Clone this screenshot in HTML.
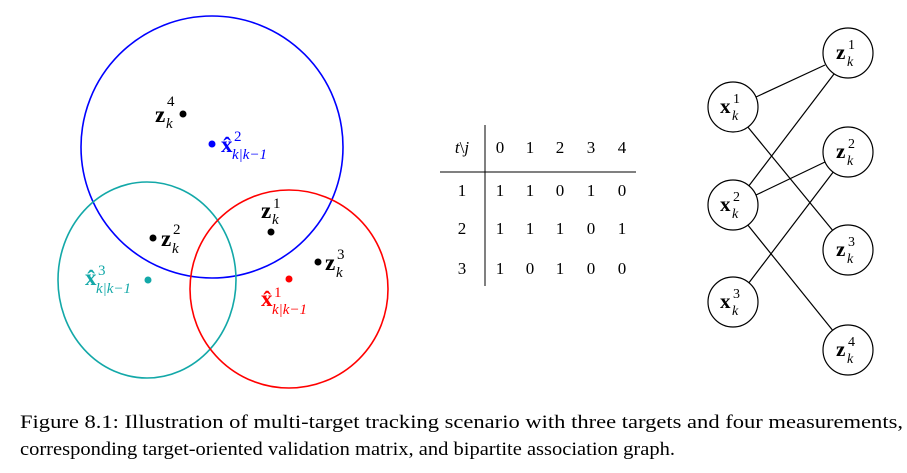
<!DOCTYPE html>
<html><head><meta charset="utf-8"><style>
html,body{margin:0;padding:0;background:#fff;}
svg{display:block;}
text{font-family:"Liberation Serif","Times New Roman",serif;}
</style></head><body>
<svg width="907" height="473" viewBox="0 0 907 473" xmlns="http://www.w3.org/2000/svg">
<g fill="none" stroke-width="1.6">
<ellipse cx="212" cy="147" rx="131" ry="131" stroke="#0000ff"/>
<ellipse cx="147" cy="280" rx="89" ry="98" stroke="#13a8a8"/>
<ellipse cx="289" cy="289" rx="99" ry="99" stroke="#ff0000"/>
</g>
<g font-size="23">
<circle cx="183" cy="114" r="3.5" fill="#000"/>
<text x="155" y="122" font-weight="bold">z</text><text x="167" y="106" font-size="15">4</text><text x="166" y="128" font-size="15" font-style="italic">k</text>
<circle cx="212" cy="144" r="3.5" fill="#0000ff"/>
<g fill="#0000ff"><text x="221" y="152" font-weight="bold">x̂</text><text x="234" y="141" font-size="15">2</text><text x="232" y="159" font-size="15" font-style="italic">k|k−1</text></g>
<circle cx="153" cy="238" r="3.5" fill="#000"/>
<text x="161" y="246" font-weight="bold">z</text><text x="173" y="234" font-size="15">2</text><text x="172" y="253" font-size="15" font-style="italic">k</text>
<circle cx="271" cy="232" r="3.5" fill="#000"/>
<text x="261" y="218" font-weight="bold">z</text><text x="273" y="208" font-size="15">1</text><text x="272" y="224" font-size="15" font-style="italic">k</text>
<circle cx="318" cy="262" r="3.5" fill="#000"/>
<text x="325" y="270" font-weight="bold">z</text><text x="337" y="259" font-size="15">3</text><text x="336" y="277" font-size="15" font-style="italic">k</text>
<circle cx="148" cy="280" r="3.5" fill="#13a8a8"/>
<g fill="#13a8a8"><text x="85" y="285" font-weight="bold">x̂</text><text x="98" y="275" font-size="15">3</text><text x="96" y="293" font-size="15" font-style="italic">k|k−1</text></g>
<circle cx="289" cy="279" r="3.5" fill="#ff0000"/>
<g fill="#ff0000"><text x="261" y="306" font-weight="bold">x̂</text><text x="274" y="297" font-size="15">1</text><text x="272" y="314" font-size="15" font-style="italic">k|k−1</text></g>
</g>
<line x1="485" y1="125" x2="485" y2="286" stroke="#000" stroke-width="1"/>
<line x1="440" y1="172" x2="636" y2="172" stroke="#000" stroke-width="1"/>
<g font-size="17" text-anchor="middle">
<text x="462" y="153"><tspan font-style="italic">t</tspan>\<tspan font-style="italic">j</tspan></text>
<text x="500" y="153">0</text><text x="530" y="153">1</text><text x="560" y="153">2</text><text x="591" y="153">3</text><text x="622" y="153">4</text>
<text x="462" y="196">1</text><text x="500" y="196">1</text><text x="530" y="196">1</text><text x="560" y="196">0</text><text x="591" y="196">1</text><text x="622" y="196">0</text>
<text x="462" y="234">2</text><text x="500" y="234">1</text><text x="530" y="234">1</text><text x="560" y="234">1</text><text x="591" y="234">0</text><text x="622" y="234">1</text>
<text x="462" y="274">3</text><text x="500" y="274">1</text><text x="530" y="274">0</text><text x="560" y="274">1</text><text x="591" y="274">0</text><text x="622" y="274">0</text>
</g>
<g stroke="#000" stroke-width="1.2">
<line x1="756" y1="97" x2="825" y2="65"/>
<line x1="747" y1="126" x2="834" y2="232"/>
<line x1="748" y1="187" x2="834" y2="74"/>
<line x1="756" y1="195" x2="825" y2="162"/>
<line x1="747" y1="224" x2="834" y2="332"/>
<line x1="748" y1="284" x2="834" y2="171"/>
</g>
<g fill="#fff" stroke="#000" stroke-width="1.2">
<circle cx="733" cy="107" r="25"/><circle cx="733" cy="205" r="25"/><circle cx="733" cy="302" r="25"/>
<circle cx="848" cy="53" r="25"/><circle cx="848" cy="152" r="25"/><circle cx="848" cy="250" r="25"/><circle cx="848" cy="350" r="25"/>
</g>
<g font-size="21">
<text x="720" y="113" font-weight="bold">x</text><text x="733" y="103" font-size="14">1</text><text x="732" y="120" font-size="14" font-style="italic">k</text>
<text x="720" y="211" font-weight="bold">x</text><text x="733" y="201" font-size="14">2</text><text x="732" y="218" font-size="14" font-style="italic">k</text>
<text x="720" y="308" font-weight="bold">x</text><text x="733" y="298" font-size="14">3</text><text x="732" y="315" font-size="14" font-style="italic">k</text>
<text x="836" y="59" font-weight="bold">z</text><text x="848" y="49" font-size="14">1</text><text x="847" y="66" font-size="14" font-style="italic">k</text>
<text x="836" y="158" font-weight="bold">z</text><text x="848" y="148" font-size="14">2</text><text x="847" y="165" font-size="14" font-style="italic">k</text>
<text x="836" y="256" font-weight="bold">z</text><text x="848" y="246" font-size="14">3</text><text x="847" y="263" font-size="14" font-style="italic">k</text>
<text x="836" y="356" font-weight="bold">z</text><text x="848" y="346" font-size="14">4</text><text x="847" y="363" font-size="14" font-style="italic">k</text>
</g>
<g font-size="18.5">
<text x="20" y="428" textLength="883" lengthAdjust="spacingAndGlyphs">Figure 8.1: Illustration of multi-target tracking scenario with three targets and four measurements,</text>
<text x="20" y="455" textLength="655" lengthAdjust="spacingAndGlyphs">corresponding target-oriented validation matrix, and bipartite association graph.</text>
</g>
</svg>
</body></html>
